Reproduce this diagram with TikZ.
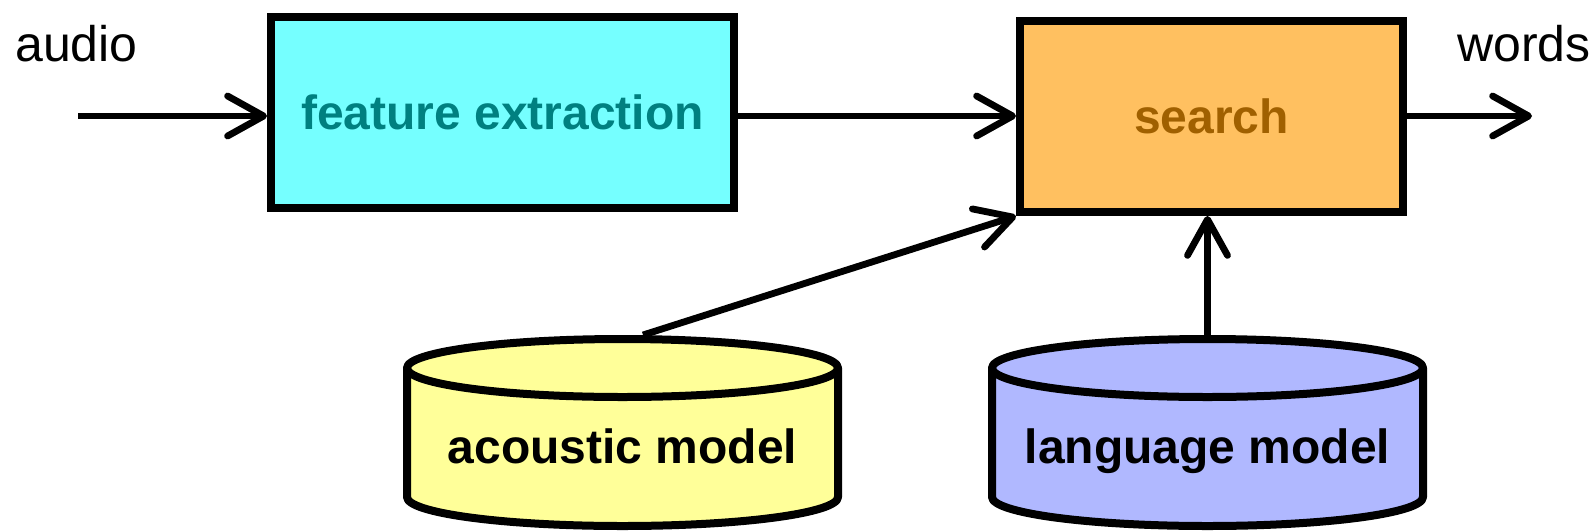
\documentclass[tikz,border=0pt]{standalone}
\usepackage{fontspec}
\setmainfont{Liberation Sans}
\usetikzlibrary{arrows.meta,calc}
\definecolor{fecyan}{HTML}{75FFFF}
\definecolor{feteal}{HTML}{008080}
\definecolor{srorange}{HTML}{FFC060}
\definecolor{srbrown}{HTML}{A06000}
\definecolor{amyellow}{HTML}{FFFF99}
\definecolor{lmblue}{HTML}{B0B8FF}
\begin{document}
\begin{tikzpicture}[x=0.5pt,y=-0.5pt,
  proc/.style={draw, line width=4pt, rectangle, minimum height=95.5pt,
    font=\fontsize{24}{28}\selectfont\bfseries},
  storeline/.style={draw, line width=4pt, line join=round},
  storetext/.style={anchor=base, inner sep=0pt, font=\fontsize{24}{28}\selectfont\bfseries},
  conn/.style={line width=3.4pt, -{Straight Barb[length=18pt,width=20pt,round]}},
  lbl/.style={font=\fontsize{25}{30}\selectfont, inner sep=0pt}]
\useasboundingbox (0,0) rectangle (1591,531);

% processing blocks
\node[proc, fill=fecyan, text=feteal, minimum width=231.5pt] (fe) at (502.5,112) {feature extraction};
\node[proc, fill=srorange, text=srbrown, minimum width=191.5pt] (sr) at (1211.5,116.5) {search};

% model stores: cylinders with a visible top face
\coordinate (amc) at (622.5,432.5);
\coordinate (lmc) at (1207.5,432.5);
\foreach \c/\col in {amc/amyellow, lmc/lmblue}{
  \draw[storeline, fill=\col] ($(\c)+(-215.5,-64.5)$) -- ($(\c)+(-215.5,64.5)$)
    arc[start angle=180, end angle=0, x radius=215.5, y radius=29]
    -- ($(\c)+(215.5,-64.5)$)
    arc[start angle=0, end angle=-180, x radius=215.5, y radius=29] -- cycle;
  \draw[storeline] ($(\c)+(-215.5,-64.5)$)
    arc[start angle=180, end angle=0, x radius=215.5, y radius=29];
}
\node[storetext] (am) at ($(amc)+(0,30.5)$) {acoustic model};
\node[storetext] (lm) at ($(lmc)+(0,30.5)$) {language model};
\coordinate (amtop) at ($(amc)+(20.5,-97.5)$);
\coordinate (lmtop) at ($(lmc)+(0,-97.5)$);

% input / output labels
\node[lbl, anchor=base west] (au) at (15,61) {audio};
\node[lbl, anchor=base east] (wd) at (1591,61) {words};
\coordinate (in) at (78,116);
\coordinate (out) at (1532,116);

% signal flow
\draw[conn] (in) -- (in -| fe.west);
\draw[conn] (fe.east |- in) -- (in -| sr.west);
\draw[conn] (sr.east |- in) -- (out);
\draw[conn] (amtop) -- (sr.south west);
\draw[conn] (lmtop) -- (lmtop |- sr.south);
\end{tikzpicture}
\end{document}
